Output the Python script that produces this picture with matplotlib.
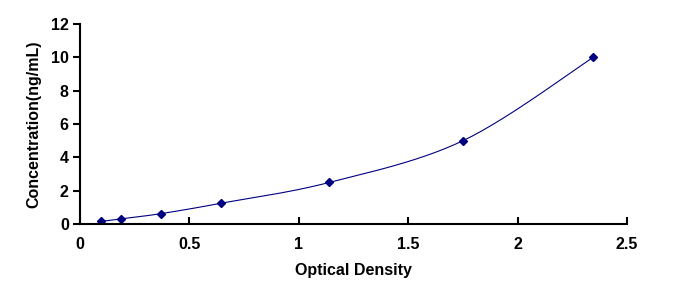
import numpy as np
import matplotlib.pyplot as plt

# standard curve points
od = [0.096, 0.186, 0.37, 0.645, 1.14, 1.75, 2.345]
conc = [0.156, 0.312, 0.625, 1.25, 2.5, 5, 10]

xticks = [0, 0.5, 1, 1.5, 2, 2.5]
xtick_labels = ['0', '0.5', '1', '1.5', '2', '2.5']
yticks = [0, 2, 4, 6, 8, 10, 12]


def smooth(x, y, n=30):
    # excel-like smoothed line (catmull-rom through the points)
    x = np.asarray(x, float)
    y = np.asarray(y, float)
    px = np.concatenate([[x[0]], x, [x[-1]]])
    py = np.concatenate([[y[0]], y, [y[-1]]])
    xs, ys = [], []
    t = np.linspace(0, 1, n)
    for i in range(1, len(px) - 2):
        p0, p1, p2, p3 = (np.array([px[j], py[j]]) for j in range(i - 1, i + 3))
        c1 = p1 + (p2 - p0) / 6
        c2 = p2 - (p3 - p1) / 6
        seg = ((1 - t) ** 3)[:, None] * p1 + (3 * (1 - t) ** 2 * t)[:, None] * c1 \
            + (3 * (1 - t) * t ** 2)[:, None] * c2 + (t ** 3)[:, None] * p2
        xs.extend(seg[:, 0])
        ys.extend(seg[:, 1])
    return xs, ys


plt.rcParams['font.family'] = ['Liberation Sans', 'DejaVu Sans']
fig = plt.figure(figsize=(6.83, 2.84), dpi=100)
ax = fig.add_axes([0.117, 0.211, 0.801, 0.704])

sx, sy = smooth(od, conc)
ax.plot(sx, sy, color='#000080', lw=0.8)
ax.plot(od, conc, linestyle='none', marker='D', markersize=4, color='#000080')

ax.set_xlim(0, 2.5)
ax.set_ylim(0, 12)
ax.set_xticks(xticks)
ax.set_xticklabels(xtick_labels)
ax.set_yticks(yticks)
ax.spines['top'].set_visible(False)
ax.spines['right'].set_visible(False)
ax.spines['left'].set_linewidth(1.5)
ax.spines['bottom'].set_linewidth(1.5)
ax.tick_params(axis='x', direction='in', length=5, width=1.5, pad=9, labelsize=11.5)
ax.tick_params(axis='y', direction='out', length=5, width=1.5, pad=3, labelsize=11.5)
for lab in ax.get_xticklabels() + ax.get_yticklabels():
    lab.set_fontweight('bold')

ax.set_xlabel('Optical Density', fontsize=11.5, fontweight='bold', labelpad=8)
ax.set_ylabel('Concentration(ng/mL)', fontsize=11.5, fontweight='bold', labelpad=7)

fig.savefig('out.png', dpi=100)
